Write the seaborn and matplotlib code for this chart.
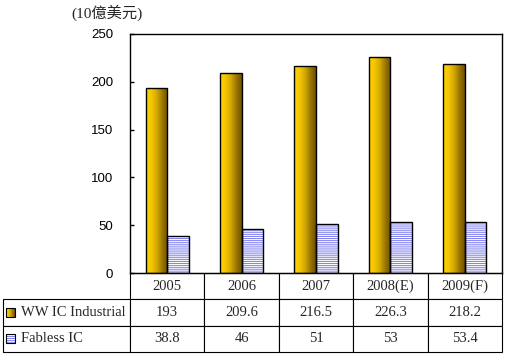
import matplotlib
matplotlib.use("Agg")
import matplotlib.pyplot as plt
import numpy as np
import pandas as pd
import seaborn as sns
from matplotlib.colors import LinearSegmentedColormap
from matplotlib.patches import Rectangle

years = ["2005", "2006", "2007", "2008(E)", "2009(F)"]
series = ["WW IC Industrial", "Fabless IC"]
ww_ic = [193, 209.6, 216.5, 226.3, 218.2]
fabless = [38.8, 46, 51, 53, 53.4]
ww_labels = ["193", "209.6", "216.5", "226.3", "218.2"]
fab_labels = ["38.8", "46", "51", "53", "53.4"]
unit_label = "(10億美元)"
yticks = [0, 50, 100, 150, 200, 250]

df = pd.DataFrame({
    "year": years * 2,
    "series": [series[0]] * len(years) + [series[1]] * len(years),
    "value": ww_ic + fabless,
})

sns.set_theme(style="white")
plt.rcParams["font.family"] = ["Liberation Serif", "Noto Sans CJK TC"]
plt.rcParams["hatch.linewidth"] = 0.75

W, H = 506, 354
fig = plt.figure(figsize=(W / 100, H / 100), dpi=100)
# plot box: x 130..502, y 34..273 (pixels)
ax = fig.add_axes([130 / W, (H - 273) / H, 372 / W, 239 / H])

sns.barplot(data=df, x="year", y="value", hue="series", hue_order=series,
            palette=["#e0b000", "white"], width=0.58, saturation=1,
            edgecolor="black", linewidth=1, legend=False, ax=ax)

gold = LinearSegmentedColormap.from_list(
    "gold", ["#ffd400", "#f5c600", "#d2a800", "#9a7600", "#6c5000"])
grad = np.linspace(0, 1, 256).reshape(1, -1)
blue = "#8282f0"

# gradient fill for the industry bars
for bar in ax.containers[0]:
    x0, y0 = bar.get_x(), bar.get_y()
    w, h = bar.get_width(), bar.get_height()
    bar.set_facecolor("none")
    im = ax.imshow(grad, cmap=gold, extent=[x0, x0 + w, y0, y0 + h],
                   aspect="auto", interpolation="bilinear",
                   zorder=bar.get_zorder() - 0.1)
    im.set_clip_path(bar)

# striped fill for the fabless bars
for bar in ax.containers[1]:
    bar.set_facecolor("none")
    ax.add_patch(Rectangle((bar.get_x(), bar.get_y()), bar.get_width(),
                           bar.get_height(), fill=False, hatch="-" * 8,
                           edgecolor=blue, linewidth=0,
                           zorder=bar.get_zorder() - 0.1))

ax.set_xlim(-0.5, len(years) - 0.5)
ax.set_ylim(0, 250)
ax.set_yticks(yticks)
ax.set_xticks([])
ax.set_xlabel("")
ax.set_ylabel("")
for s in ax.spines.values():
    s.set_visible(True)
    s.set_color("black")
    s.set_linewidth(1)
ax.tick_params(axis="y", direction="in", length=3, width=1, color="black",
               left=True, labelsize=9.5, pad=12, labelcolor="black")
for lab in ax.get_yticklabels():
    lab.set_family(["Liberation Sans Narrow", "Liberation Sans"])

fig.text(71 / W, 1 - 13 / H, unit_label, fontsize=11, va="center", ha="left",
         family=["Liberation Serif", "Noto Sans CJK TC"])

# data table under the plot
cell_text = [[series[0]] + ww_labels, [series[1]] + fab_labels]
tbl_left, tbl_right, tbl_bottom = 3, 502, 352
bbox = [(tbl_left - 130) / 372, -(tbl_bottom - 273) / 239,
        (tbl_right - tbl_left) / 372, (tbl_bottom - 273) / 239]
col_w = [127] + [74.4] * len(years)
tbl = ax.table(cellText=cell_text, colLabels=[""] + years, colWidths=col_w,
               cellLoc="center", bbox=bbox)
tbl.auto_set_font_size(False)
tbl.set_fontsize(10.5)
for (r, c), cell in tbl.get_celld().items():
    cell.set_linewidth(0.8)
    cell.set_edgecolor("black")
    if c == 0:
        if r == 0:
            cell.visible_edges = "open"
        else:
            cell.get_text().set_ha("left")
            cell.PAD = 0.14

# legend keys inside the row-label cells
row_h = bbox[3] / 3
kw, kh = 9 / 372, 9 / 239
kx = (6 - 130) / 372
for i in range(2):
    yc = -row_h * (1.5 + i)
    if i == 0:
        ax.imshow(grad, cmap=gold, extent=[kx, kx + kw, yc - kh / 2, yc + kh / 2],
                  aspect="auto", transform=ax.transAxes, clip_on=False, zorder=5)
    else:
        ax.add_patch(Rectangle((kx, yc - kh / 2), kw, kh, transform=ax.transAxes,
                               fill=False, hatch="-" * 8, edgecolor=blue,
                               linewidth=0, clip_on=False, zorder=5))
    ax.add_patch(Rectangle((kx, yc - kh / 2), kw, kh, transform=ax.transAxes,
                           fill=False, edgecolor="black", linewidth=0.8,
                           clip_on=False, zorder=6))

ax.set_xlim(-0.5, len(years) - 0.5)
ax.set_ylim(0, 250)

fig.savefig("out.png", dpi=100, facecolor="white")
